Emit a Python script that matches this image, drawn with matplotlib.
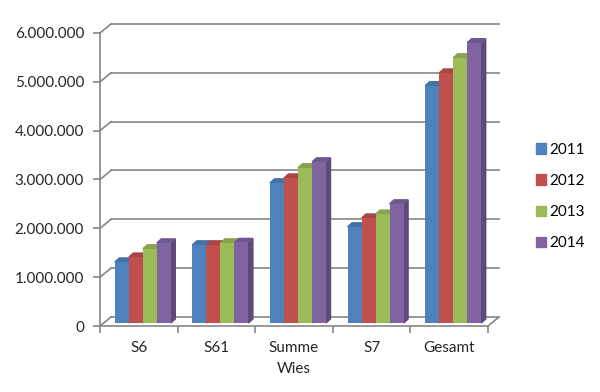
import matplotlib.pyplot as plt
from matplotlib.patches import Polygon, Patch
from matplotlib.ticker import FuncFormatter
import numpy as np

categories = ["S6", "S61", "Summe\nWies", "S7", "Gesamt"]
years = ["2011", "2012", "2013", "2014"]
v2011 = [1250000, 1600000, 2870000, 1970000, 4860000]
v2012 = [1350000, 1600000, 2970000, 2150000, 5120000]
v2013 = [1520000, 1640000, 3180000, 2230000, 5430000]
v2014 = [1640000, 1650000, 3300000, 2440000, 5740000]
y_ticks = [0, 1000000, 2000000, 3000000, 4000000, 5000000, 6000000]

series = [v2011, v2012, v2013, v2014]
colors = ["#4F81BD", "#C0504D", "#9BBB59", "#8064A2"]
sides = ["#3A5F8C", "#8E3B39", "#728A42", "#5E4A78"]
tops = ["#4472A8", "#A84644", "#87A34D", "#6F5790"]

plt.rcParams['font.family'] = ['Lato', 'DejaVu Sans']
fig = plt.figure(figsize=(6, 3.92), dpi=100)
ax = fig.add_axes([100 / 600, 1 - 326 / 392, 388 / 600, 293 / 392])
ax.set_xlim(0, len(categories))
ax.set_ylim(0, 6000000)

# pixel -> data conversions for the fake 3D offsets
px_x = len(categories) / 388
px_y = 6000000 / 293
wall_dx, wall_dy = 11 * px_x, 9 * px_y
bar_dx, bar_dy = 4 * px_x, 3 * px_y
dep_dx, dep_dy = 4.5 * px_x, 4 * px_y
grid_c = "#868686"

# back wall gridlines with the diagonal on the left wall
for v in y_ticks:
    ax.plot([0, wall_dx], [v, v + wall_dy], color=grid_c, lw=1.2, clip_on=False, zorder=1)
    ax.plot([wall_dx, len(categories) + wall_dx], [v + wall_dy, v + wall_dy],
            color=grid_c, lw=1.2, clip_on=False, zorder=1)
ax.plot([len(categories), len(categories) + wall_dx], [0, wall_dy],
        color=grid_c, lw=1.2, clip_on=False, zorder=1)

x = np.arange(len(categories)) + 0.5
w = 14 * px_x
for i, vals in enumerate(series):
    pos = x + (i - 1.5) * w + bar_dx
    bars = ax.bar(pos, vals, w, bottom=bar_dy, color=colors[i], zorder=3 + i * 3)
    for b in bars:
        x0, x1 = b.get_x(), b.get_x() + b.get_width()
        y0, y1 = b.get_y(), b.get_y() + b.get_height()
        ax.add_patch(Polygon([(x1, y0), (x1 + dep_dx, y0 + dep_dy), (x1 + dep_dx, y1 + dep_dy), (x1, y1)],
                             closed=True, color=sides[i], zorder=2 + i * 3, clip_on=False))
        ax.add_patch(Polygon([(x0, y1), (x1, y1), (x1 + dep_dx, y1 + dep_dy), (x0 + dep_dx, y1 + dep_dy)],
                             closed=True, color=tops[i], zorder=2 + i * 3, clip_on=False))

for s in ["top", "right"]:
    ax.spines[s].set_visible(False)
for s in ["left", "bottom"]:
    ax.spines[s].set_color(grid_c)
    ax.spines[s].set_linewidth(1.2)

ax.set_yticks(y_ticks)
ax.yaxis.set_major_formatter(FuncFormatter(lambda v, p: f"{int(v):,}".replace(",", ".")))
ax.tick_params(axis="y", length=5, width=1.2, color=grid_c, labelsize=11,
               labelcolor="#262626", pad=6.5)
ax.set_xticks(np.arange(len(categories) + 1))
ax.set_xticklabels([])
ax.set_xticks(x, minor=True)
ax.set_xticklabels(categories, minor=True, fontsize=11, color="#262626", linespacing=1.6)
ax.tick_params(axis="x", which="major", length=5, width=1.2, color=grid_c)
ax.tick_params(axis="x", which="minor", length=0, pad=11)

handles = [Patch(color=c, label=y) for c, y in zip(colors, years)]
fig.legend(handles=handles, loc="center left", bbox_to_anchor=(536 / 600, 1 - 196.5 / 392),
           frameon=False, fontsize=11, handlelength=0.65, handleheight=0.65,
           handletextpad=0.25, labelspacing=1.12, borderpad=0, borderaxespad=0)

fig.savefig("out.png", dpi=100)
